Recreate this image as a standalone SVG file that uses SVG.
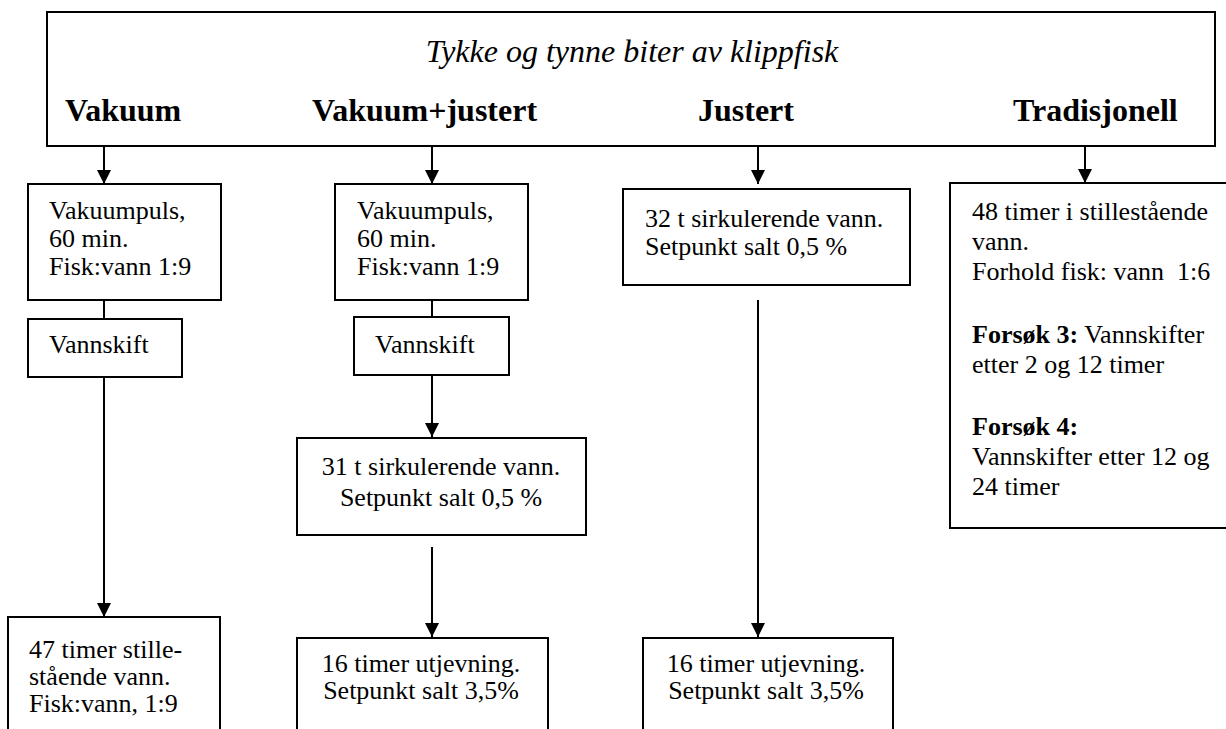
<svg xmlns="http://www.w3.org/2000/svg" width="1226" height="729" viewBox="0 0 1226 729">
<defs>
<marker id="ah" markerWidth="14" markerHeight="14" refX="14" refY="7" orient="auto" markerUnits="userSpaceOnUse" viewBox="0 0 14 14">
<path d="M0,0 L14,7 L0,14 Z" fill="#000"/>
</marker>
<style>
.box{fill:#fff;stroke:#000;stroke-width:2}
.t{font-family:"Liberation Serif","Times New Roman",serif;font-size:26px;fill:#000}
.h{font-family:"Liberation Serif","Times New Roman",serif;font-size:32px;font-weight:bold;fill:#000}
.ti{font-family:"Liberation Serif","Times New Roman",serif;font-size:32px;font-style:italic;fill:#000}
.c{text-anchor:middle}
.b{font-weight:bold}
.ln{stroke:#000;stroke-width:2;fill:none}
</style>
</defs>
<rect width="1226" height="729" fill="#fff"/>
<g id="top">
<rect class="box" x="47" y="12" width="1168" height="134"/>
<text class="ti c" x="632" y="62">Tykke og tynne biter av klippfisk</text>
<text class="h" x="65" y="121">Vakuum</text>
<text class="h" x="312" y="121">Vakuum+justert</text>
<text class="h" x="698" y="121">Justert</text>
<text class="h" x="1013" y="121">Tradisjonell</text>
</g>
<g id="connectors">
<line class="ln" x1="104" y1="146" x2="104" y2="184" marker-end="url(#ah)"/>
<line class="ln" x1="432" y1="146" x2="432" y2="184" marker-end="url(#ah)"/>
<line class="ln" x1="758" y1="146" x2="758" y2="184" marker-end="url(#ah)"/>
<line class="ln" x1="1085" y1="146" x2="1085" y2="183" marker-end="url(#ah)"/>
<line class="ln" x1="104" y1="300" x2="104" y2="319"/>
<line class="ln" x1="104" y1="377" x2="104" y2="617" marker-end="url(#ah)"/>
<line class="ln" x1="432" y1="300" x2="432" y2="317"/>
<line class="ln" x1="432" y1="375" x2="432" y2="437" marker-end="url(#ah)"/>
<line class="ln" x1="432" y1="547" x2="432" y2="637" marker-end="url(#ah)"/>
<line class="ln" x1="758" y1="300" x2="758" y2="637" marker-end="url(#ah)"/>
</g>
<g id="vak1">
<rect class="box" x="28" y="184" width="193" height="116"/>
<text class="t" x="49" y="219">Vakuumpuls,<tspan x="49" dy="28">60 min.</tspan><tspan x="49" dy="28">Fisk:vann 1:9</tspan></text>
</g>
<g id="vannskift1">
<rect class="box" x="28" y="319" width="154" height="58"/>
<text class="t" x="49" y="353">Vannskift</text>
</g>
<g id="stille47">
<rect class="box" x="8" y="617" width="212" height="140"/>
<text class="t" x="29" y="658">47 timer stille-<tspan x="29" dy="27">stående vann.</tspan><tspan x="29" dy="27">Fisk:vann, 1:9</tspan></text>
</g>
<g id="vak2">
<rect class="box" x="335" y="184" width="193" height="116"/>
<text class="t" x="357" y="219">Vakuumpuls,<tspan x="357" dy="28">60 min.</tspan><tspan x="357" dy="28">Fisk:vann 1:9</tspan></text>
</g>
<g id="vannskift2">
<rect class="box" x="354" y="317" width="155" height="58"/>
<text class="t" x="375" y="353">Vannskift</text>
</g>
<g id="sirk31">
<rect class="box" x="297" y="438" width="289" height="97"/>
<text class="t c" x="441" y="475">31 t sirkulerende vann.<tspan x="441" dy="31">Setpunkt salt 0,5 %</tspan></text>
</g>
<g id="utj2">
<rect class="box" x="297" y="638" width="251" height="100"/>
<text class="t c" x="421" y="672">16 timer utjevning.<tspan x="421" dy="27">Setpunkt salt 3,5%</tspan></text>
</g>
<g id="sirk32">
<rect class="box" x="623" y="189" width="287" height="96"/>
<text class="t" x="645" y="227">32 t sirkulerende vann.<tspan x="645" dy="28">Setpunkt salt 0,5 %</tspan></text>
</g>
<g id="utj3">
<rect class="box" x="643" y="638" width="250" height="100"/>
<text class="t c" x="766" y="672">16 timer utjevning.<tspan x="766" dy="27">Setpunkt salt 3,5%</tspan></text>
</g>
<g id="trad">
<rect class="box" x="950" y="183" width="280" height="345"/>
<text class="t" x="972" y="220" xml:space="preserve">48 timer i stillestående<tspan x="972" dy="30">vann.</tspan><tspan x="972" dy="30">Forhold fisk: vann  1:6</tspan></text>
<text class="t" x="972" y="343"><tspan class="b">Forsøk 3:</tspan> Vannskifter<tspan x="972" dy="30">etter 2 og 12 timer</tspan></text>
<text class="t" x="972" y="435"><tspan class="b">Forsøk 4:</tspan><tspan x="972" dy="30">Vannskifter etter 12 og</tspan><tspan x="972" dy="30">24 timer</tspan></text>
</g>
</svg>
